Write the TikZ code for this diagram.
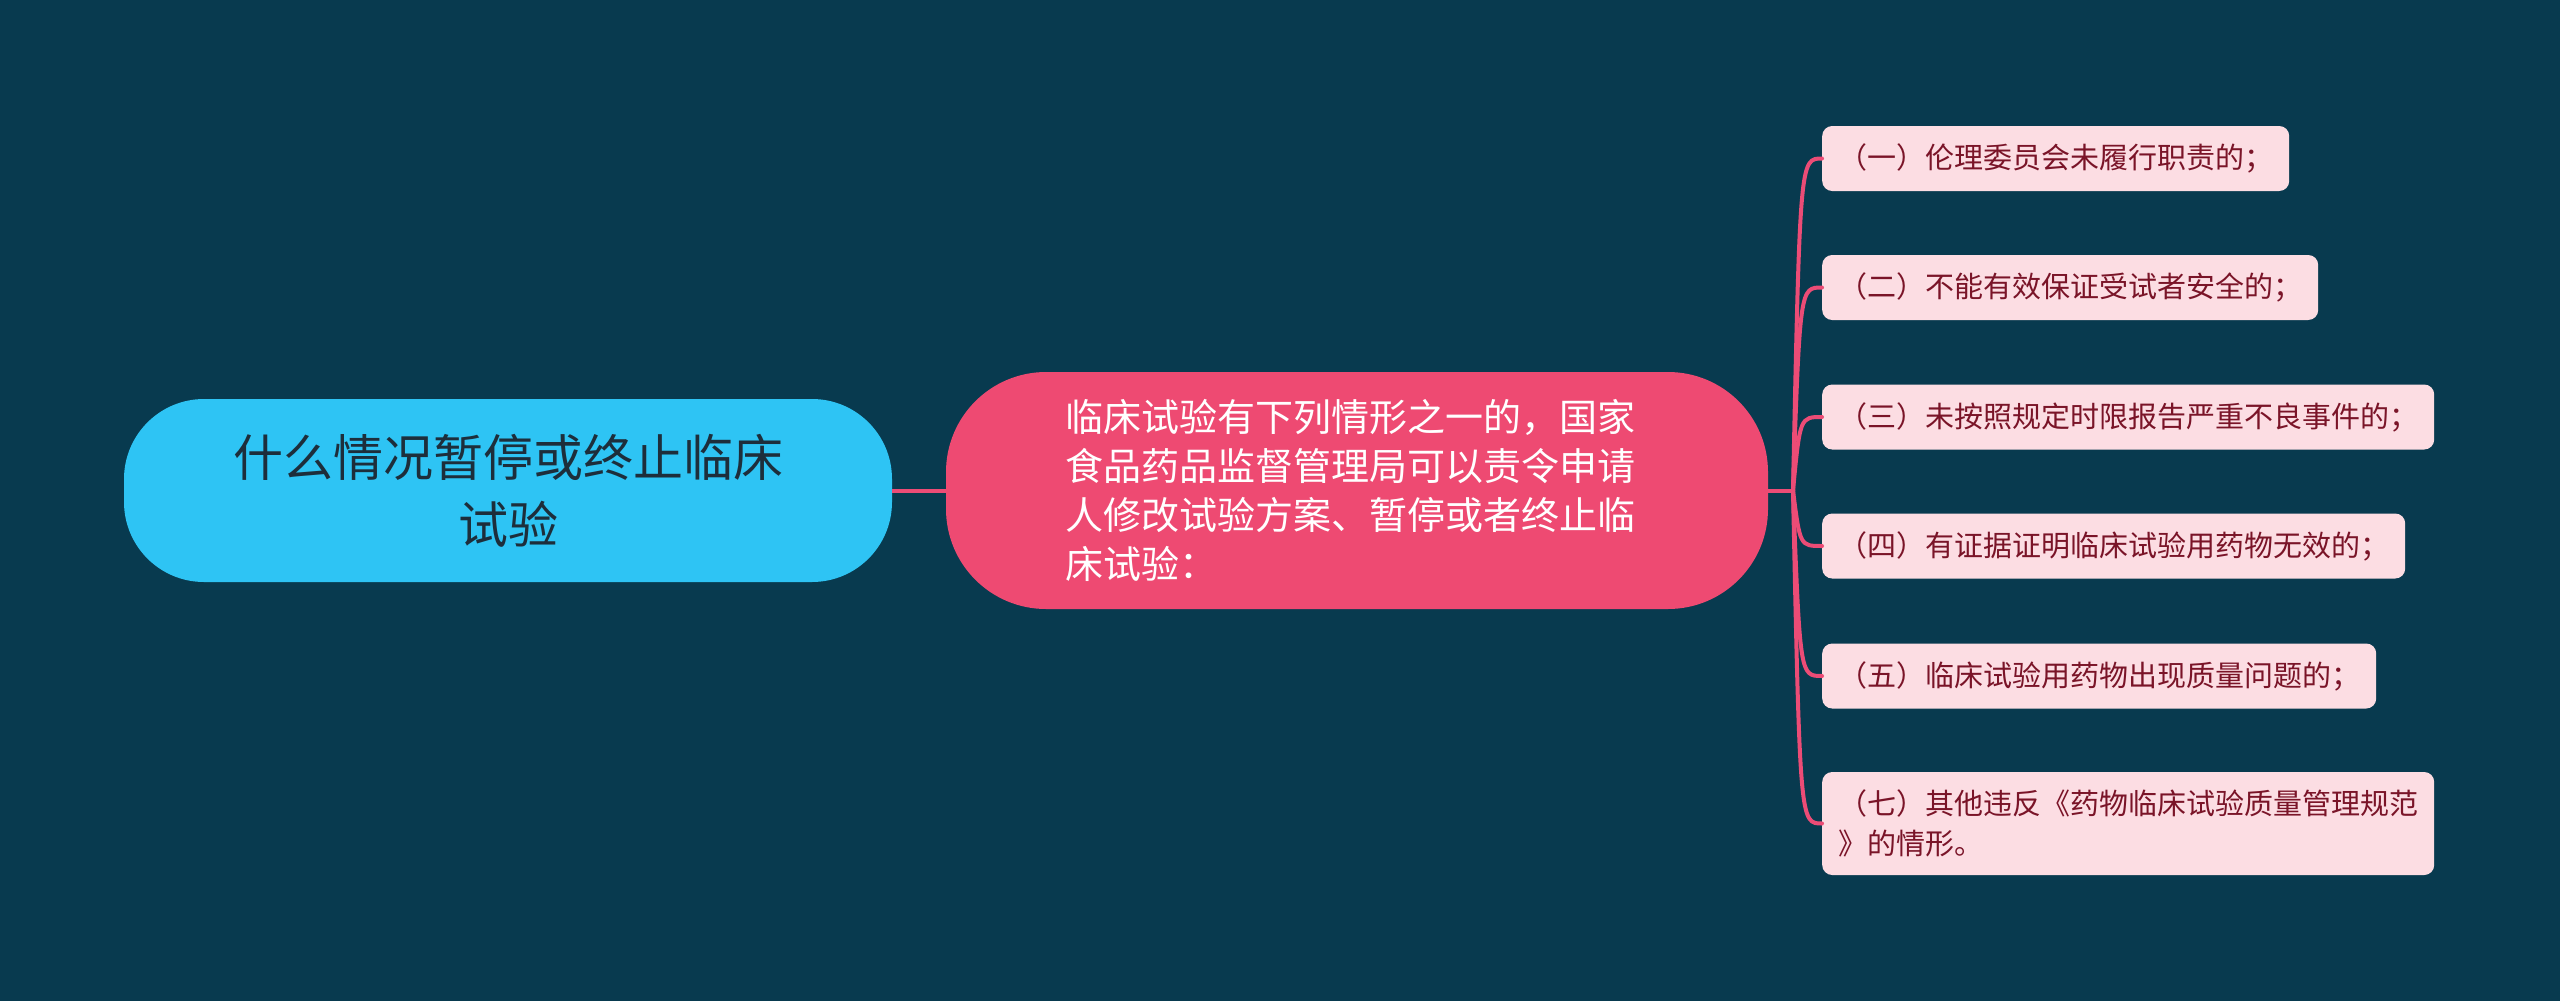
\documentclass[tikz,border=0pt]{standalone}
\usepackage{fontspec}
\newfontfamily\cjk{Noto Sans CJK SC}
\usetikzlibrary{calc}
\definecolor{bgc}{HTML}{083A4F}
\definecolor{rootc}{HTML}{2EC4F4}
\definecolor{roottxt}{HTML}{1D2E3B}
\definecolor{midc}{HTML}{EE4A72}
\definecolor{leafc}{HTML}{FCDDE3}
\definecolor{leaftxt}{HTML}{7A1428}
\definecolor{linkc}{HTML}{EC4C76}
\tikzset{
  rootbox/.style={fill=rootc, rounded corners=80pt, text=roottxt, align=center,
    font=\cjk\fontsize{50}{67}\selectfont, minimum width=768pt, minimum height=183pt, inner sep=0pt},
  midbox/.style={fill=midc, rounded corners=100pt, text=white, align=left, text width=584pt,
    font=\cjk\fontsize{38}{49}\selectfont, minimum width=822pt, minimum height=237pt, inner sep=0pt},
  leafbox/.style={fill=leafc, rounded corners=10pt, text=leaftxt, align=left, anchor=west,
    font=\cjk\fontsize{29}{40}\selectfont, inner xsep=16pt, inner ysep=4pt, minimum height=65pt},
  link/.style={draw=linkc, line width=4pt},
}
\begin{document}
\begin{tikzpicture}[x=1pt,y=-1pt]
\fill[bgc] (0,0) rectangle (2560,1001);
\useasboundingbox (0,0) rectangle (2560,1001);

\node[rootbox] (root) at (508,490.5) {什么情况暂停或终止临床\\试验};
\node[midbox] (mid) at (1357,490.5) {临床试验有下列情形之一的，国家\\食品药品监督管理局可以责令申请\\人修改试验方案、暂停或者终止临\\床试验：};

\node[leafbox] (l1) at (1822,158.5) {（一）伦理委员会未履行职责的；};
\node[leafbox] (l2) at (1822,287.5) {（二）不能有效保证受试者安全的；};
\node[leafbox] (l3) at (1822,417) {（三）未按照规定时限报告严重不良事件的；};
\node[leafbox] (l4) at (1822,546) {（四）有证据证明临床试验用药物无效的；};
\node[leafbox] (l5) at (1822,676) {（五）临床试验用药物出现质量问题的；};
\node[leafbox, minimum height=103pt] (l6) at (1822,823.5) {（七）其他违反《药物临床试验质量管理规范\\》的情形。};

\coordinate (hub) at (1793,490.5);
\draw[link] (root.east) -- (mid.west);
\draw[link] (mid.east) -- (hub);
\foreach \n in {l1,l2,l3,l4,l5,l6}{
  \draw[link, line cap=round] (hub) .. controls ($(hub |- \n.west)+(7,0)$) and ($(hub |- \n.west)+(7,0)$) .. (\n.west);
}
\end{tikzpicture}
\end{document}
